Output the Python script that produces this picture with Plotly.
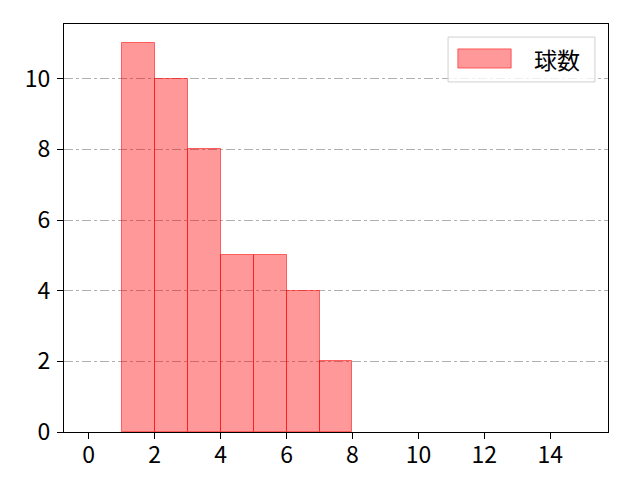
import plotly.graph_objects as go

bin_left = [1, 2, 3, 4, 5, 6, 7]
counts = [11, 10, 8, 5, 5, 4, 2]
series_name = "球数"
x_ticks = [0, 2, 4, 6, 8, 10, 12, 14]
y_ticks = [0, 2, 4, 6, 8, 10]

centers = [b + 0.5 for b in bin_left]
FILL = "rgba(255,0,0,0.4)"
EDGE = "rgba(255,0,0,0.55)"

fig = go.Figure()
fig.add_trace(go.Bar(
    x=centers, y=counts, width=1, name=series_name,
    marker=dict(color=FILL, line=dict(color=EDGE, width=1)),
    showlegend=False,
))

# legend drawn manually (wide patch like the original)
fig.add_shape(type="rect", xref="paper", yref="paper",
              x0=0.706, x1=0.976, y0=0.858, y1=0.968,
              line=dict(color="#d0d0d0", width=1), fillcolor="rgba(255,255,255,0.8)")
fig.add_shape(type="rect", xref="paper", yref="paper",
              x0=0.724, x1=0.822, y0=0.892, y1=0.939,
              line=dict(color=EDGE, width=1), fillcolor=FILL)
fig.add_annotation(xref="paper", yref="paper", x=0.86, y=0.915,
                   text=series_name, showarrow=False, xanchor="left", yanchor="middle",
                   font=dict(size=23))

font = "Noto Sans CJK JP, DejaVu Sans, sans-serif"
fig.update_layout(
    width=640, height=480,
    margin=dict(l=56, r=40, t=16, b=56),
    plot_bgcolor="white", paper_bgcolor="white",
    font=dict(family=font, size=23, color="black"),
    bargap=0,
    showlegend=False,
    xaxis=dict(
        range=[-0.75, 15.75], tickvals=x_ticks, ticks="outside", ticklen=6,
        tickwidth=1.2, tickcolor="black", ticklabelstandoff=-4,
        showline=True, linecolor="black", linewidth=1.2, mirror=True,
        showgrid=False, zeroline=False, automargin=False,
    ),
    yaxis=dict(
        range=[0, 11.55], tickvals=y_ticks, ticks="outside", ticklen=6,
        tickwidth=1.2, tickcolor="black", ticklabelstandoff=2,
        showline=True, linecolor="black", linewidth=1.2, mirror=True,
        showgrid=True, gridcolor="#b0b0b0", griddash="dashdot", gridwidth=1,
        zeroline=False, automargin=False,
    ),
)

fig.write_html("out.html")
